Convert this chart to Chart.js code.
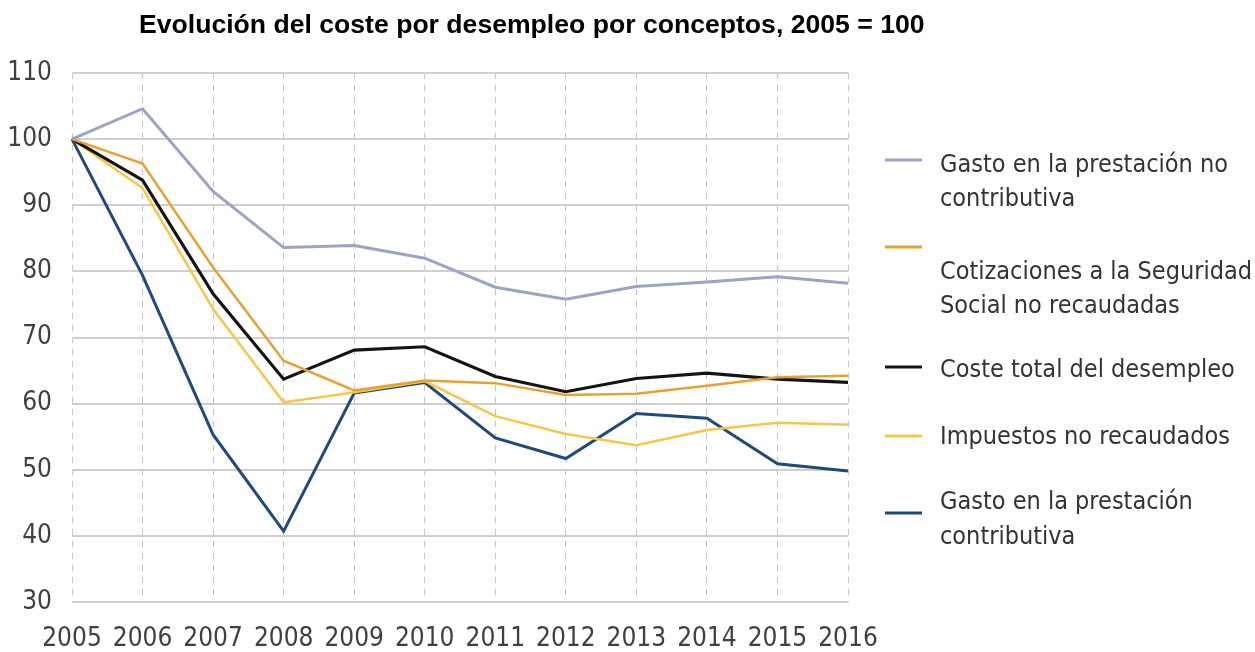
<!DOCTYPE html>
<html>
<head>
<meta charset="utf-8">
<script src="https://cdn.jsdelivr.net/npm/chart.js@4.4.1/dist/chart.umd.min.js"></script>
<style>
html,body{margin:0;padding:0;background:#fff;}
#wrap{width:1255px;height:652px;position:relative;}
</style>
</head>
<body>
<div id="wrap"><canvas id="c" width="1255" height="652"></canvas></div>
<script>
const titleText = "Evolución del coste por desempleo por conceptos, 2005 = 100";
const years = ["2005","2006","2007","2008","2009","2010","2011","2012","2013","2014","2015","2016"];
const yTicks = [30,40,50,60,70,80,90,100,110];

const gastoNoContributiva = [100,104.6,92.1,83.6,83.9,82.0,77.6,75.8,77.7,78.4,79.2,78.2];
const cotizacionesSS      = [100,96.3,80.6,66.5,62.0,63.5,63.1,61.3,61.5,62.7,64.0,64.2];
const costeTotal          = [100,93.8,76.6,63.7,68.1,68.6,64.1,61.8,63.8,64.6,63.7,63.2];
const impuestos           = [100,92.6,74.3,60.2,61.7,63.4,58.1,55.4,53.7,56.0,57.1,56.8];
const gastoContributiva   = [100,79.4,55.3,40.7,61.6,63.2,54.8,51.7,58.5,57.8,50.9,49.8];

const legendLabels = [
  ["Gasto en la prestación no","contributiva"],
  ["Cotizaciones a la Seguridad","Social no recaudadas"],
  ["Coste total del desempleo"],
  ["Impuestos no recaudados"],
  ["Gasto en la prestación","contributiva"]
];

const FONT = "'Liberation Sans Narrow','Arial Narrow','DejaVu Sans Condensed',sans-serif";

const colors = ["#9ca4c5","#e7a133","#141414","#f6c64a","#1e4a7e"];

const legendPlugin = {
  id: 'customLegend',
  afterDraw(chart) {
    const ctx = chart.ctx;
    ctx.save();
    // title
    ctx.font = "bold 26.6px 'Liberation Sans', Arial, sans-serif";
    ctx.fillStyle = "#000";
    ctx.textAlign = "left";
    ctx.textBaseline = "alphabetic";
    ctx.fillText(titleText, 139, 33);
    // legend
    ctx.textBaseline = "middle";
    const items = [
      {ly:160, ty:[165,199]},
      {ly:247, ty:[272,306]},
      {ly:367, ty:[370]},
      {ly:436, ty:[437]},
      {ly:513, ty:[502,537]}
    ];
    ctx.font = "25px " + FONT;
    chart.data.datasets.forEach((ds, i) => {
      const it = items[i];
      ctx.strokeStyle = ds.borderColor;
      ctx.lineWidth = 3;
      ctx.beginPath();
      ctx.moveTo(885, it.ly);
      ctx.lineTo(922, it.ly);
      ctx.stroke();
      ctx.fillStyle = "#333";
      legendLabels[i].forEach((ln, j) => ctx.fillText(ln, 940, it.ty[j]));
    });
    ctx.restore();
  }
};

new Chart(document.getElementById('c'), {
  type: 'line',
  data: {
    labels: years,
    datasets: [
      {label: legendLabels[0].join(' '), data: gastoNoContributiva, borderColor: colors[0], borderWidth: 3},
      {label: legendLabels[1].join(' '), data: cotizacionesSS, borderColor: colors[1], borderWidth: 2.5},
      {label: legendLabels[2].join(' '), data: costeTotal, borderColor: colors[2], borderWidth: 3.2},
      {label: legendLabels[3].join(' '), data: impuestos, borderColor: colors[3], borderWidth: 2.5},
      {label: legendLabels[4].join(' '), data: gastoContributiva, borderColor: colors[4], borderWidth: 3}
    ]
  },
  options: {
    responsive: false,
    animation: false,
    devicePixelRatio: 1,
    elements: { point: { radius: 0 }, line: { tension: 0 } },
    layout: { padding: { top: 73, right: 407, left: 0, bottom: 0 } },
    plugins: { legend: { display: false }, title: { display: false }, tooltip: { enabled: false } },
    scales: {
      x: {
        offset: false,
        grid: { color: '#c4c4c4', lineWidth: 1, drawTicks: false },
        border: { display: false, dash: [6,6] },
        ticks: { color: '#404040', font: { family: FONT, size: 26 }, padding: 22, maxRotation: 0 },
        afterFit(s) { s.height = 50; }
      },
      y: {
        min: 30, max: 110,
        afterBuildTicks(s) { s.ticks = yTicks.map(v => ({value: v})); },
        grid: { color: '#cfcfcf', lineWidth: 2, drawTicks: false },
        border: { display: false },
        ticks: { color: '#404040', font: { family: FONT, size: 26 }, padding: 20 },
        afterFit(s) { s.width = 72; }
      }
    }
  },
  plugins: [legendPlugin]
});
</script>
</body>
</html>
